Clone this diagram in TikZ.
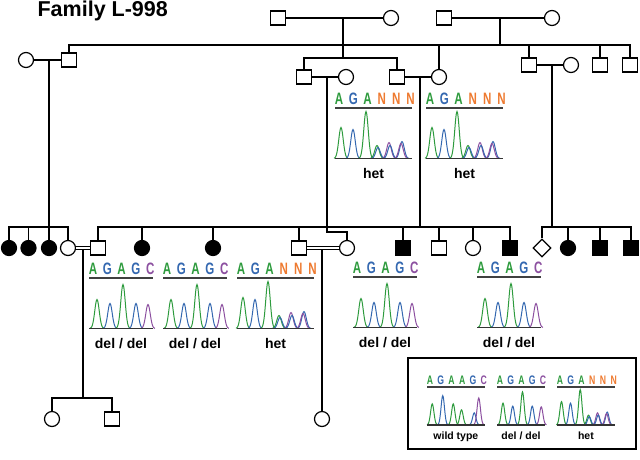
\documentclass[tikz,border=0pt]{standalone}
\usepackage{fontspec}
\setmainfont{Liberation Sans}
\usepackage{tikz}
\usetikzlibrary{shapes.geometric}

\definecolor{baseA}{RGB}{46,155,62}
\definecolor{baseG}{RGB}{52,104,176}
\definecolor{baseC}{RGB}{140,80,160}
\definecolor{baseN}{RGB}{238,122,48}

\tikzset{
    male/.style={draw, rectangle, minimum width=15pt, minimum height=14pt, inner sep=0pt},
    female/.style={draw, circle, minimum size=15pt, inner sep=0pt},
    unknown/.style={draw, diamond, aspect=1, minimum size=18pt, inner sep=0pt},
    affected/.style={fill=black},
    consang/.style={double, double distance=2pt, line width=0.9pt},
    seq/.style={font=\fontsize{16.5}{16.5}\selectfont\bfseries, xscale=0.7, anchor=base, inner sep=0pt},
    seqline/.style={line width=1.3pt, black!75},
    trace/.style={line width=1pt},
    traceaxis/.style={line width=1.8pt, black!80},
    genotype/.style={font=\fontsize{14}{14}\selectfont\bfseries, anchor=base, inner sep=0pt},
    famtitle/.style={font=\fontsize{21.5}{21.5}\selectfont\bfseries, anchor=base west, inner sep=0pt},
}

% name, x, y, scale, width, bases, peaks, genotype
\newcommand{\chromat}[8]{%
    \begin{scope}[shift={(#2,#3)}, scale=#4, every node/.append style={scale=#4}]
        \foreach \lt/\col [count=\i from 0] in #6
            \node[seq, text=\col] (#1-\i) at ({4+14.3*\i},-3.5) {\lt};
        \draw[seqline] (0,0) -- (#5,0);
        \foreach \pos/\hgt/\col in #7
            \draw[trace, \col] plot[domain=-7:7, samples=25, smooth] ({\pos+\x},{50.5-\hgt*exp(-(\x*\x)/10)});
        \draw[traceaxis] (0,50.5) -- (#5,50.5);
        \node[genotype] (#1-gt) at ({#5/2},70.5) {#8};
    \end{scope}}

\newcommand{\delbases}{A/baseA, G/baseG, A/baseA, G/baseG, C/baseC}
\newcommand{\hetbases}{A/baseA, G/baseG, A/baseA, N/baseN, N/baseN, N/baseN}
\newcommand{\wtbases}{A/baseA, G/baseG, A/baseA, A/baseA, G/baseG, C/baseC}
\newcommand{\delpeaks}{8/29/baseA, 21/25/baseG, 34/44/baseA, 47/25/baseG, 59/24/baseC}
\newcommand{\hetpeaks}{6/31/baseA, 18/29/baseG, 31/47/baseA, 42/13/baseA, 43/11/baseG, 54/16/baseC, 55/13/baseG, 67/17/baseG, 66/15/baseC}
\newcommand{\wtpeaks}{7/28/baseA, 21/39/baseG, 35/28/baseA, 46/20/baseA, 63/16/baseG, 69/36/baseC}

\begin{document}
\begin{tikzpicture}[x=1pt, y=-1pt, line width=1.2pt]
    \useasboundingbox (0,0) rectangle (640,459);

    \node[famtitle] (title) at (37,16) {Family L-998};

    % generation I
    \node[male] (I1) at (278,18) {};
    \node[female] (I2) at (391,18) {};
    \node[male] (I3) at (444,18) {};
    \node[female] (I4) at (552,18) {};

    % generation II
    \node[female] (II1) at (26,60) {};
    \node[male] (II2) at (69,60) {};
    \node[male] (II3) at (304,77) {};
    \node[female] (II4) at (346,77) {};
    \node[male] (II5) at (397,77) {};
    \node[female] (II6) at (439,77) {};
    \node[male] (II7) at (529,65) {};
    \node[female] (II8) at (571,65) {};
    \node[male] (II9) at (600,65) {};
    \node[male] (II10) at (630,65) {};

    % generation III
    \node[female, affected] (III1) at (9,248) {};
    \node[female, affected] (III2) at (28.5,248) {};
    \node[female, affected] (III3) at (49,248) {};
    \node[female] (III4) at (68,248) {};
    \node[male] (III5) at (98,248) {};
    \node[female, affected] (III6) at (142,248) {};
    \node[female, affected] (III7) at (213,248) {};
    \node[male] (III8) at (299,248) {};
    \node[female] (III9) at (347,248) {};
    \node[male, affected] (III10) at (403,248) {};
    \node[male] (III11) at (439,248) {};
    \node[female] (III12) at (473,248) {};
    \node[male, affected] (III13) at (510,248) {};
    \node[unknown] (III14) at (542,248) {};
    \node[female, affected] (III15) at (568,248) {};
    \node[male, affected] (III16) at (600,248) {};
    \node[male, affected] (III17) at (631,248) {};

    % generation IV
    \node[female] (IV1) at (52,419) {};
    \node[male] (IV2) at (112,419) {};
    \node[female] (IV3) at (322,419) {};

    \coordinate (c1) at (343,18);
    \coordinate (c2) at (500,18);
    \coordinate (c3) at (49,60);
    \coordinate (c4) at (327,77);
    \coordinate (c5) at (420,77);
    \coordinate (c6) at (552,65);
    \coordinate (c7) at (83,250);
    \coordinate (c8) at (322,250);
    \coordinate (s1) at (0,45);
    \coordinate (s2) at (0,58);
    \coordinate (s3) at (0,227);
    \coordinate (s4) at (0,232);
    \coordinate (s5) at (0,398);

    \draw (I1) -- (I2);
    \draw (I3) -- (I4);
    \draw (c1) -- (c1 |- s2);
    \draw (c2) -- (c2 |- s1);
    \draw (II2.north) -- (II2 |- s1) -- (II10 |- s1) -- (II10.north);
    \foreach \n in {II6, II7, II9}
        \draw (\n.north) -- (\n |- s1);
    \draw (II3.north) -- (II3 |- s2) -- (II5 |- s2) -- (II5.north);

    \draw (II1) -- (II2);
    \draw (II3) -- (II4);
    \draw (II5) -- (II6);
    \draw (II7) -- (II8);

    \draw (c3) -- (c3 |- s3);
    \draw (III1.north) -- (III1 |- s3) -- (III4 |- s3) -- (III4.north);
    \foreach \n in {III2, III3}
        \draw (\n.north) -- (\n |- s3);
    \draw (c5) -- (c5 |- s3);
    \draw (III5.north) -- (III5 |- s3) -- (III13 |- s3) -- (III13.north);
    \foreach \n in {III6, III7, III8, III10, III11, III12}
        \draw (\n.north) -- (\n |- s3);
    \draw (c4) -- (c4 |- s4) -| (III9.north);
    \draw (c6) -- (c6 |- s3);
    \draw (III14.north) -- (III14 |- s3) -- (III17 |- s3) -- (III17.north);
    \foreach \n in {III15, III16}
        \draw (\n.north) -- (\n |- s3);

    \draw[consang] (III4) -- (III5);
    \draw[consang] (III8) -- (III9);
    \draw (c7) -- (c7 |- s5);
    \draw (IV1.north) -- (IV1 |- s5) -- (IV2 |- s5) -- (IV2.north);
    \draw (c8) -- (IV3.north);

    % sequencing results
    \chromat{hetA}{335}{108}{1}{77}{\hetbases}{\hetpeaks}{het}
    \chromat{hetB}{426}{108}{1}{77}{\hetbases}{\hetpeaks}{het}
    \chromat{delA}{89}{278}{1}{64}{\delbases}{\delpeaks}{del / del}
    \chromat{delB}{163}{278}{1}{64}{\delbases}{\delpeaks}{del / del}
    \chromat{hetC}{237}{278}{1}{77}{\hetbases}{\hetpeaks}{het}
    \chromat{delC}{353}{277}{1}{64}{\delbases}{\delpeaks}{del / del}
    \chromat{delD}{477}{277}{1}{64}{\delbases}{\delpeaks}{del / del}

    % legend
    \draw (408,358) rectangle (636,449);
    \chromat{keyWT}{427}{387}{0.75}{77}{\wtbases}{\wtpeaks}{wild type}
    \chromat{keyDel}{497}{387}{0.75}{64}{\delbases}{\delpeaks}{del / del}
    \chromat{keyHet}{557}{387}{0.75}{77}{\hetbases}{\hetpeaks}{het}
\end{tikzpicture}
\end{document}
